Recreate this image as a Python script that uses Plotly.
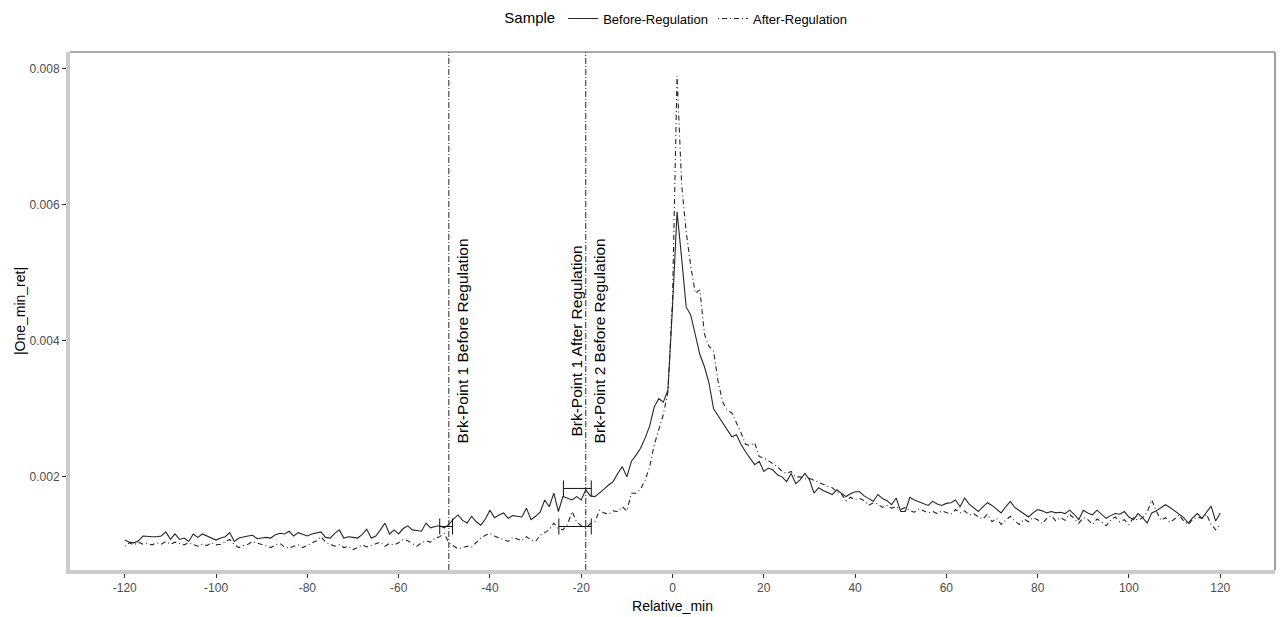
import plotly.graph_objects as go

# Minutes relative to the event
minutes = list(range(-120, 121))

# Mean absolute one-minute return, before regulation (-120 .. 120)
before_reg = [
    0.00107, 0.00104, 0.00103, 0.00106, 0.00113, 0.00112, 0.00112, 0.00112, 0.00113, 0.00119,
    0.00108, 0.00116, 0.00108, 0.00110, 0.00105, 0.00116, 0.00111, 0.00116, 0.00113, 0.00110,
    0.00107, 0.00110, 0.00112, 0.00118, 0.00105, 0.00110, 0.00112, 0.00113, 0.00114, 0.00109,
    0.00110, 0.00111, 0.00110, 0.00115, 0.00117, 0.00116, 0.00120, 0.00113, 0.00118, 0.00116,
    0.00113, 0.00116, 0.00118, 0.00119, 0.00111, 0.00110, 0.00117, 0.00122, 0.00110, 0.00112,
    0.00111, 0.00110, 0.00115, 0.00123, 0.00110, 0.00113, 0.00122, 0.00132, 0.00116, 0.00122,
    0.00116, 0.00124, 0.00128, 0.00122, 0.00121, 0.00120, 0.00132, 0.00125, 0.00127, 0.00128,
    0.00125, 0.00130, 0.00138, 0.00144, 0.00136, 0.00132, 0.00142, 0.00134, 0.00129, 0.00138,
    0.00151, 0.00140, 0.00144, 0.00147, 0.00139, 0.00143, 0.00142, 0.00141, 0.00154, 0.00137,
    0.00142, 0.00148, 0.00166, 0.00156, 0.00176, 0.00149, 0.00171, 0.00168, 0.00166, 0.00171,
    0.00166, 0.00181, 0.00172, 0.00171, 0.00176, 0.00182, 0.00188, 0.00193, 0.00205, 0.00215,
    0.00200, 0.00223, 0.00232, 0.00242, 0.00257, 0.00275, 0.00303, 0.00315, 0.00310, 0.00328,
    0.00450, 0.00590, 0.00522, 0.00450, 0.00438, 0.00410, 0.00380, 0.00362, 0.00338, 0.00300,
    0.00290, 0.00281, 0.00270, 0.00259, 0.00262, 0.00248, 0.00237, 0.00228, 0.00218, 0.00223,
    0.00208, 0.00213, 0.00210, 0.00203, 0.00200, 0.00193, 0.00205, 0.00190, 0.00196, 0.00205,
    0.00196, 0.00176, 0.00184, 0.00180, 0.00177, 0.00174, 0.00181, 0.00176, 0.00171, 0.00175,
    0.00178, 0.00178, 0.00172, 0.00168, 0.00164, 0.00174, 0.00168, 0.00165, 0.00159, 0.00169,
    0.00149, 0.00149, 0.00170, 0.00166, 0.00163, 0.00160, 0.00158, 0.00164, 0.00160, 0.00158,
    0.00161, 0.00162, 0.00166, 0.00156, 0.00169, 0.00160, 0.00155, 0.00149, 0.00156, 0.00162,
    0.00158, 0.00152, 0.00147, 0.00156, 0.00164, 0.00155, 0.00150, 0.00146, 0.00141, 0.00147,
    0.00152, 0.00150, 0.00147, 0.00149, 0.00147, 0.00148, 0.00146, 0.00151, 0.00145, 0.00137,
    0.00151, 0.00147, 0.00144, 0.00151, 0.00145, 0.00139, 0.00143, 0.00146, 0.00145, 0.00149,
    0.00141, 0.00137, 0.00146, 0.00140, 0.00132, 0.00147, 0.00150, 0.00155, 0.00159, 0.00155,
    0.00150, 0.00146, 0.00140, 0.00132, 0.00140, 0.00146, 0.00139, 0.00148, 0.00157, 0.00135,
    0.00147,
]

# Mean absolute one-minute return, after regulation (-120 .. 120)
after_reg = [
    0.00098, 0.00103, 0.00100, 0.00104, 0.00101, 0.00102, 0.00100, 0.00103, 0.00101, 0.00105,
    0.00101, 0.00104, 0.00102, 0.00100, 0.00103, 0.00101, 0.00098, 0.00101, 0.00099, 0.00103,
    0.00100, 0.00101, 0.00104, 0.00108, 0.00100, 0.00096, 0.00099, 0.00101, 0.00105, 0.00103,
    0.00100, 0.00098, 0.00096, 0.00100, 0.00102, 0.00097, 0.00095, 0.00098, 0.00100, 0.00096,
    0.00099, 0.00102, 0.00106, 0.00112, 0.00104, 0.00101, 0.00098, 0.00100, 0.00096, 0.00098,
    0.00093, 0.00096, 0.00100, 0.00097, 0.00099, 0.00101, 0.00104, 0.00098, 0.00102, 0.00100,
    0.00103, 0.00108, 0.00106, 0.00102, 0.00098, 0.00103, 0.00106, 0.00104, 0.00110, 0.00112,
    0.00117, 0.00103, 0.00099, 0.00094, 0.00096, 0.00098, 0.00097, 0.00103, 0.00110, 0.00114,
    0.00117, 0.00113, 0.00110, 0.00108, 0.00105, 0.00111, 0.00109, 0.00106, 0.00112, 0.00107,
    0.00105, 0.00114, 0.00118, 0.00122, 0.00132, 0.00124, 0.00122, 0.00130, 0.00149, 0.00134,
    0.00128, 0.00125, 0.00131, 0.00134, 0.00151, 0.00147, 0.00145, 0.00150, 0.00149, 0.00156,
    0.00150, 0.00176, 0.00176, 0.00182, 0.00195, 0.00215, 0.00247, 0.00268, 0.00292, 0.00325,
    0.00460, 0.00790, 0.00630, 0.00560, 0.00510, 0.00470, 0.00475, 0.00410, 0.00392, 0.00385,
    0.00340, 0.00310, 0.00298, 0.00294, 0.00280, 0.00265, 0.00248, 0.00246, 0.00250, 0.00230,
    0.00228, 0.00224, 0.00220, 0.00215, 0.00208, 0.00205, 0.00208, 0.00200, 0.00200, 0.00198,
    0.00198, 0.00195, 0.00191, 0.00188, 0.00186, 0.00184, 0.00178, 0.00175, 0.00165, 0.00170,
    0.00166, 0.00168, 0.00165, 0.00158, 0.00162, 0.00160, 0.00155, 0.00158, 0.00154, 0.00156,
    0.00152, 0.00155, 0.00150, 0.00148, 0.00153, 0.00150, 0.00147, 0.00149, 0.00146, 0.00150,
    0.00148, 0.00145, 0.00152, 0.00147, 0.00150, 0.00144, 0.00146, 0.00141, 0.00138, 0.00145,
    0.00134, 0.00139, 0.00130, 0.00136, 0.00142, 0.00135, 0.00130, 0.00138, 0.00134, 0.00140,
    0.00137, 0.00131, 0.00139, 0.00143, 0.00135, 0.00140, 0.00136, 0.00145, 0.00139, 0.00132,
    0.00140, 0.00137, 0.00130, 0.00138, 0.00134, 0.00128, 0.00136, 0.00141, 0.00134, 0.00137,
    0.00130, 0.00140, 0.00136, 0.00140, 0.00148, 0.00166, 0.00150, 0.00136, 0.00140, 0.00133,
    0.00138, 0.00144, 0.00135, 0.00130, 0.00138, 0.00141, 0.00139, 0.00145, 0.00130, 0.00122,
    0.00131,
]

# Estimated structural break points with their confidence intervals
bp_labels = ["Brk-Point 1 Before Regulation",
             "Brk-Point 1 After Regulation",
             "Brk-Point 2 Before Regulation"]
bp_minute = [-49, -19, -19]
bp_ci_low = [-51.0, -24.9, -23.9]
bp_ci_high = [-48.2, -17.8, -17.8]
bp_ci_level = [0.00127, 0.00127, 0.00183]
bp_label_x = [-46, -21, -16]
bp_label_y = 0.004

x_ticks = list(range(-120, 121, 20))
x_tick_text = [str(v) for v in x_ticks]
y_ticks = [0.002, 0.004, 0.006, 0.008]

FONT = "Liberation Sans, Arial, sans-serif"
LINE = "#262626"

fig = go.Figure()

fig.add_trace(go.Scatter(
    x=minutes, y=before_reg, mode="lines", name="Before-Regulation",
    line=dict(color=LINE, width=1.1, dash="solid"),
))
fig.add_trace(go.Scatter(
    x=minutes, y=after_reg, mode="lines", name="After-Regulation",
    line=dict(color=LINE, width=1.1, dash="1px,3px,5px,3px"),
))

# Horizontal confidence-interval bars around each break point
centers = [(lo + hi) / 2 for lo, hi in zip(bp_ci_low, bp_ci_high)]
fig.add_trace(go.Scatter(
    x=centers, y=bp_ci_level, mode="markers", showlegend=False,
    marker=dict(size=1, color="rgba(0,0,0,0)"),
    error_x=dict(type="data", symmetric=False,
                 array=[hi - c for hi, c in zip(bp_ci_high, centers)],
                 arrayminus=[c - lo for lo, c in zip(bp_ci_low, centers)],
                 color="#111", thickness=1, width=8),
    hoverinfo="skip",
))

# Vertical break-point lines
for m in sorted(set(bp_minute)):
    fig.add_vline(x=m, line=dict(color=LINE, width=1, dash="6px,2px,1px,2px"))

for text, lx in zip(bp_labels, bp_label_x):
    fig.add_annotation(
        x=lx, y=bp_label_y, text=text, textangle=-90, showarrow=False,
        xanchor="center", yanchor="middle",
        font=dict(family=FONT, size=15.5, color="black"),
    )

# Thin top and right frame lines
fig.add_shape(type="line", xref="paper", yref="paper", x0=0, x1=1, y0=1, y1=1,
              line=dict(color="#555555", width=1))
fig.add_shape(type="line", xref="paper", yref="paper", x0=1, x1=1, y0=0, y1=1,
              line=dict(color="#a0a0a0", width=2))

axis_common = dict(
    showgrid=False, zeroline=False, automargin=False,
    showline=True, linecolor="#cccccc", linewidth=4,
    ticks="outside", ticklen=4, tickcolor="#333333", tickwidth=1,
    tickfont=dict(family=FONT, size=12, color="#4d4d4d"),
)

fig.update_layout(
    width=1284, height=617,
    margin=dict(l=70, r=9, t=52, b=47),
    paper_bgcolor="white", plot_bgcolor="white",
    font=dict(family=FONT, color="black"),
    xaxis=dict(range=[-132, 132], tickvals=x_ticks, ticktext=x_tick_text,
               title=dict(text="Relative_min", font=dict(size=14, color="black"), standoff=8),
               **axis_common),
    yaxis=dict(range=[0.00063, 0.00825], tickvals=y_ticks, tickformat=".3f",
               title=dict(text="|One_min_ret|", font=dict(size=14, color="black"), standoff=2),
               **axis_common),
    legend=dict(
        orientation="h", x=0.504, xanchor="center", y=0.97, yref="container",
        yanchor="middle",
        title=dict(text="Sample", font=dict(size=15, color="black"), side="left"),
        font=dict(size=13, color="black"),
        itemwidth=30, bgcolor="rgba(0,0,0,0)",
    ),
    showlegend=True,
)

fig.write_html("out.html")
